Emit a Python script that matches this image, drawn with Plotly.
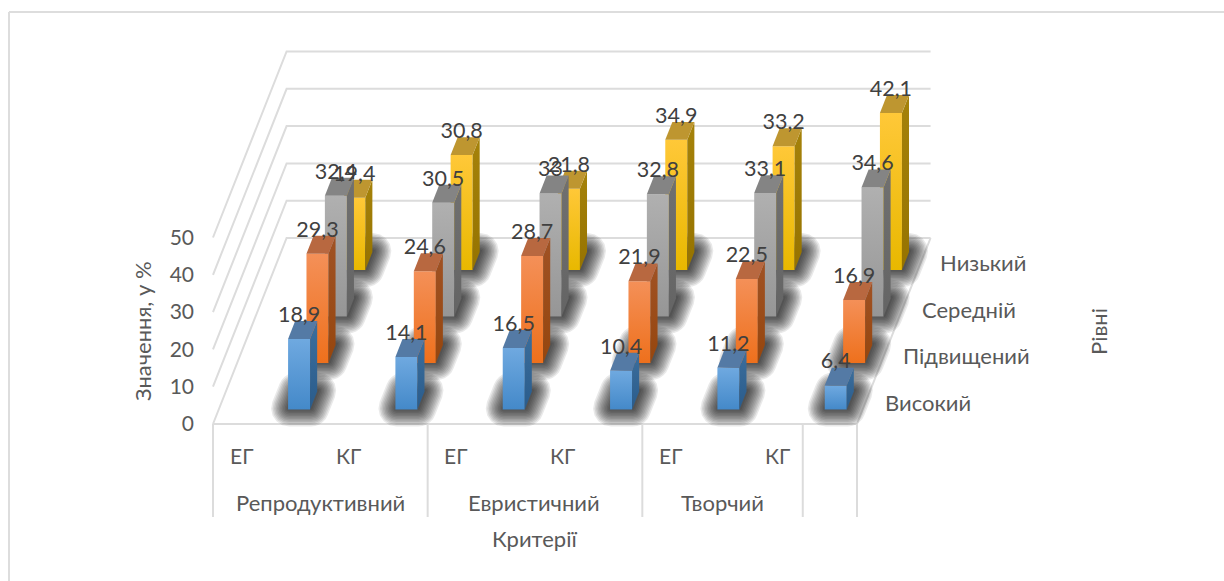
import math
import plotly.graph_objects as go

# Chart data: share of students per level, by criterion and group
groups = ["ЕГ", "КГ", "ЕГ", "КГ", "ЕГ", "КГ"]
criteria = ["Репродуктивний", "Евристичний", "Творчий"]
levels = ["Високий", "Підвищений", "Середній", "Низький"]
high = [18.9, 14.1, 16.5, 10.4, 11.2, 6.4]
raised = [29.3, 24.6, 28.7, 21.9, 22.5, 16.9]
medium = [32.4, 30.5, 33, 32.8, 33.1, 34.6]
low = [19.4, 30.8, 21.8, 34.9, 33.2, 42.1]
value_ticks = [0, 10, 20, 30, 40, 50]

series = [high, raised, medium, low]

# Face colours per series: front (top, bottom), side (top, bottom), cap
palette = [
    dict(front=("#6FA9E0", "#4489C9"), side=("#3C6E9C", "#2A5C8C"), cap="#547AA5"),
    dict(front=("#F49058", "#EE701C"), side=("#A05224", "#96460E"), cap="#B86840"),
    dict(front=("#B0B0B0", "#969696"), side=("#707070", "#646464"), cap="#848484"),
    dict(front=("#FFC838", "#E8B800"), side=("#A5820A", "#967300"), cap="#BE9630"),
]

# Figure size and the oblique projection of the 3D plot box
W, H = 1224, 581
X0_PX, Y0_PX = 213.0, 424.0      # front-left floor corner
CAT_PX, VAL_PX = 107.33, 3.73    # pixels per category and per value unit
DEPTH_DX_PX, DEPTH_DY_PX = 18.4, 46.5  # screen shift per level of depth
DEPTH_DX = DEPTH_DX_PX / CAT_PX
DEPTH_DY = DEPTH_DY_PX / VAL_PX
BAR_LEFT, BAR_WIDTH = 0.646, 0.205
BAR_FRONT, BAR_DEPTH = 0.312, 0.385

GRID = "#DCDCDC"
AXIS_TEXT = "#595959"
LABEL_TEXT = "#404040"
FONT = "Lato, 'Open Sans', sans-serif"


def project(u, d, v):
    """Category position u, level depth d, value v -> axis coordinates."""
    return u + d * DEPTH_DX, v + d * DEPTH_DY


def polygon(points):
    xs, ys = zip(*points)
    return list(xs) + [xs[0]], list(ys) + [ys[0]]


def bar_faces(col, lev, value):
    u0, u1 = col + BAR_LEFT, col + BAR_LEFT + BAR_WIDTH
    d0, d1 = lev + BAR_FRONT, lev + BAR_FRONT + BAR_DEPTH
    front = [project(u0, d0, 0), project(u1, d0, 0), project(u1, d0, value), project(u0, d0, value)]
    side = [project(u1, d0, 0), project(u1, d1, 0), project(u1, d1, value), project(u1, d0, value)]
    cap = [project(u0, d0, value), project(u1, d0, value), project(u1, d1, value), project(u0, d1, value)]
    return front, side, cap


def footprint_outline(col, lev, grow_px):
    """Bar footprint on the floor, grown by grow_px with rounded corners."""
    u0, u1 = col + BAR_LEFT, col + BAR_LEFT + BAR_WIDTH
    d0, d1 = lev + BAR_FRONT, lev + BAR_FRONT + BAR_DEPTH
    corners = [project(u0, d0, 0), project(u1, d0, 0), project(u1, d1, 0), project(u0, d1, 0)]
    # Arc of outward normals swept at each corner (screen px, y up)
    slope = math.atan2(DEPTH_DY_PX, DEPTH_DX_PX)
    starts = [slope + math.pi / 2, -math.pi / 2, slope - math.pi / 2, math.pi / 2]
    ends = [3 * math.pi / 2, slope - math.pi / 2, math.pi / 2, slope + math.pi / 2]
    pts = []
    for (cx, cy), a0, a1 in zip(corners, starts, ends):
        for k in range(6):
            a = a0 + (a1 - a0) * k / 5
            pts.append((cx + grow_px * math.cos(a) / CAT_PX + 1 / CAT_PX,
                        cy + grow_px * math.sin(a) / VAL_PX + 1 / VAL_PX))
    return polygon(pts)


fig = go.Figure()

# Walls and floor outline
gx, gy = [], []
for tick in value_ticks:
    for p in ([project(0, 0, tick), project(0, 4, tick), project(6, 4, tick)]):
        gx.append(p[0]); gy.append(p[1])
    gx.append(None); gy.append(None)
for p in ([project(0, 0, 0), project(6, 0, 0), project(6, 4, 0)]):
    gx.append(p[0]); gy.append(p[1])
gx.append(None); gy.append(None)

# Category axis dividers below the floor
divider_u = [0, 2, 4, 5.495, 6]
for u in divider_u:
    gx += [u, u, None]
    gy += [0, -93 / VAL_PX, None]

fig.add_trace(go.Scatter(x=gx, y=gy, mode="lines", line=dict(color=GRID, width=2),
                         hoverinfo="skip", showlegend=False))

# Soft floor shadows and bars, painted from the back row to the front
SHADOW_STEPS = [18, 16.5, 15, 13.5, 12, 10.5, 9, 7.5, 6, 4.5, 3, 1.5]
for lev in reversed(range(len(series))):
    for grow in SHADOW_STEPS:
        sx, sy = [], []
        for col in range(len(groups)):
            px, py = footprint_outline(col, lev, grow)
            sx += px + [None]
            sy += py + [None]
        fig.add_trace(go.Scatter(x=sx, y=sy, mode="lines", fill="toself",
                                 fillcolor="rgba(0,0,0,0.085)", line=dict(width=0),
                                 hoverinfo="skip", showlegend=False))
    colors = palette[lev]
    for col, value in enumerate(series[lev]):
        front, side, cap = bar_faces(col, lev, value)
        for pts, pair in ((front, colors["front"]), (side, colors["side"])):
            x, y = polygon(pts)
            fig.add_trace(go.Scatter(
                x=x, y=y, mode="lines", fill="toself", line=dict(width=0),
                fillgradient=dict(type="vertical",
                                  colorscale=[[0, pair[1]], [1, pair[0]]]),
                hoverinfo="skip", showlegend=False))
        x, y = polygon(cap)
        fig.add_trace(go.Scatter(x=x, y=y, mode="lines", fill="toself", line=dict(width=0),
                                 fillcolor=colors["cap"], hoverinfo="skip", showlegend=False))

# Value labels above each bar, written with a decimal comma
LABEL_RISE = 22.5 / VAL_PX
for lev, values in enumerate(series):
    lx, ly, lt = [], [], []
    for col, value in enumerate(values):
        x, y = project(col + BAR_LEFT + BAR_WIDTH / 2, lev + BAR_FRONT, value)
        lx.append(x); ly.append(y + LABEL_RISE)
        lt.append(f"{value:g}".replace(".", ","))
    fig.add_trace(go.Scatter(x=lx, y=ly, text=lt, mode="text", textposition="middle center",
                             textfont=dict(family=FONT, size=21.5, color=LABEL_TEXT),
                             hoverinfo="skip", showlegend=False))


def px_note(text, x, y, size=22, angle=0, anchor="center"):
    fig.add_annotation(text=text, xref="paper", yref="paper", x=x / W, y=1 - y / H,
                       showarrow=False, textangle=angle, xanchor=anchor, yanchor="middle",
                       font=dict(family=FONT, size=size, color=AXIS_TEXT))


# Category axis labels
for i, g in enumerate(groups):
    px_note(g, 241 + i * CAT_PX, 455, size=21)
for name, cx in zip(criteria, [320, 534, 722]):
    px_note(name, cx, 502)
px_note("Критерії", 535, 538)

# Depth axis labels, stepped along the floor edge
for lev, name in enumerate(levels):
    px_note(name, 883 + lev * DEPTH_DX_PX, 402 - lev * DEPTH_DY_PX, anchor="left")

px_note("Рівні", 1098, 332, angle=-90)
px_note("Значення, у %", 142, 331, angle=-90)

# Outer chart frame: only the left and top edges are in view
frame = dict(type="line", xref="paper", yref="paper", line=dict(color="#DDDDDD", width=2))
fig.add_shape(x0=9 / W, x1=9 / W, y0=0, y1=1 - 12 / H, **frame)
fig.add_shape(x0=9 / W, x1=1, y0=1 - 12 / H, y1=1 - 12 / H, **frame)

fig.update_layout(
    width=W, height=H, margin=dict(l=0, r=0, t=0, b=0),
    paper_bgcolor="white", plot_bgcolor="white", showlegend=False,
    xaxis=dict(visible=False, range=[-X0_PX / CAT_PX, (W - X0_PX) / CAT_PX], fixedrange=True),
    yaxis=dict(range=[(Y0_PX - H) / VAL_PX, Y0_PX / VAL_PX], anchor="free", position=194 / W,
               tickvals=value_ticks, ticks="", showgrid=False, zeroline=False, showline=False,
               tickfont=dict(family=FONT, size=21, color=AXIS_TEXT), fixedrange=True),
)

fig.write_html("out.html", config=dict(displayModeBar=False))
